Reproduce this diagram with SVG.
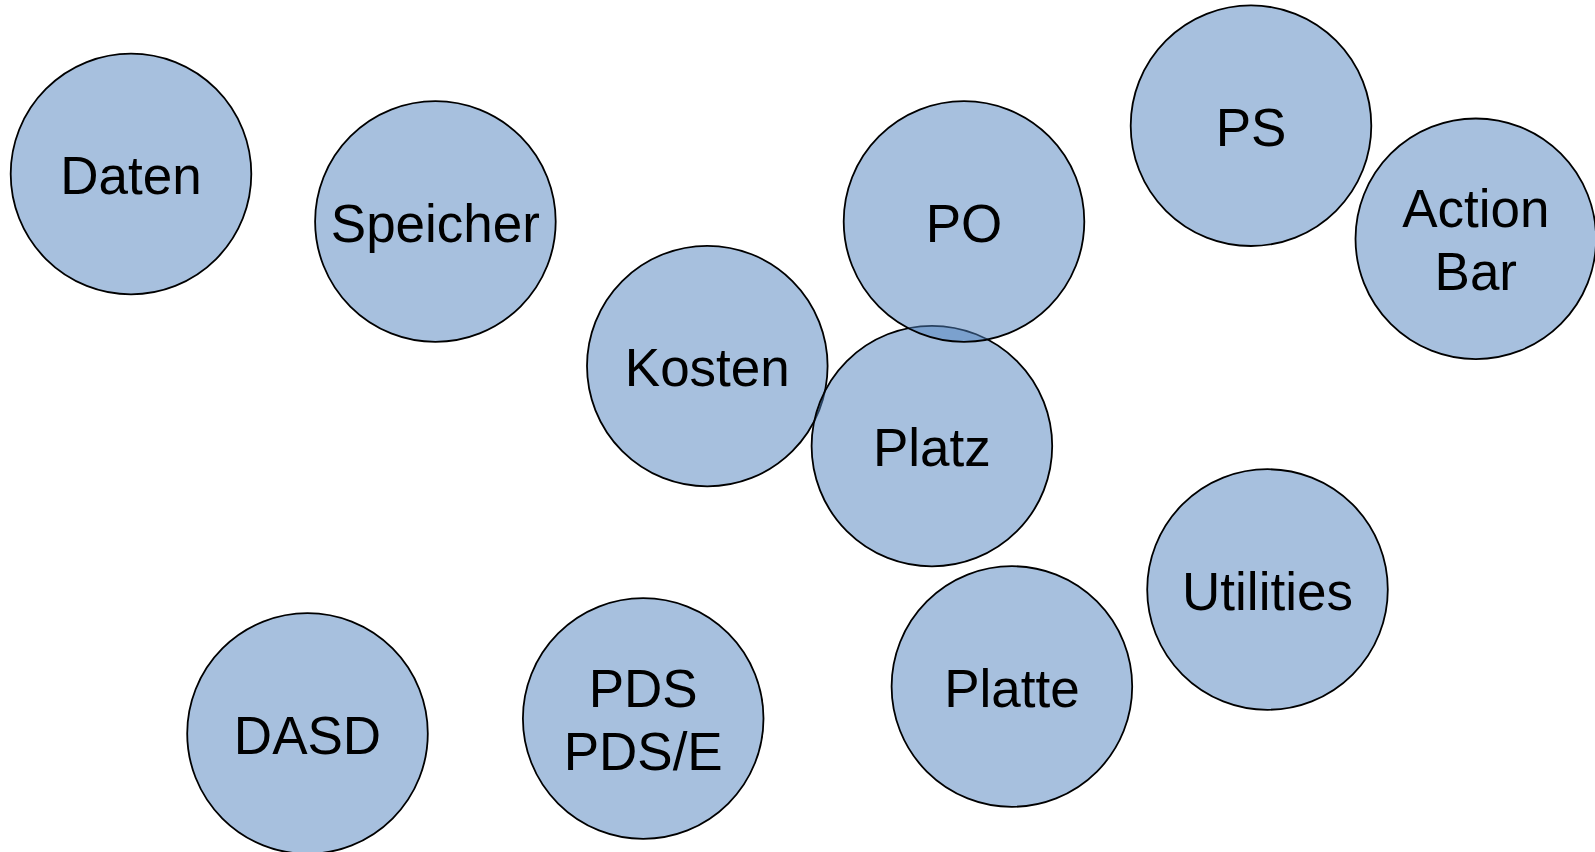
<svg xmlns="http://www.w3.org/2000/svg" width="1595" height="852" viewBox="0 0 1595 852">
<style>
.n circle{fill:#4F81BD;fill-opacity:0.5;stroke:#000;stroke-width:1.8}
.n text{font-family:"Liberation Sans",Arial,sans-serif;font-size:53px;fill:#000;text-anchor:middle}
</style>
<rect width="1595" height="852" fill="#fff"/>
<g id="connectors"></g>
<g id="daten" class="n"><circle cx="131" cy="174" r="120.3"/><text x="131" y="194">Daten</text></g>
<g id="speicher" class="n"><circle cx="435.4" cy="221.5" r="120.3"/><text x="435.4" y="241.5">Speicher</text></g>
<g id="kosten" class="n"><circle cx="707.3" cy="366.1" r="120.3"/><text x="707.3" y="386.1">Kosten</text></g>
<g id="platz" class="n"><circle cx="931.9" cy="446.1" r="120.3"/><text x="931.9" y="466.1">Platz</text></g>
<g id="po" class="n"><circle cx="964" cy="221.5" r="120.3"/><text x="964" y="241.5">PO</text></g>
<g id="ps" class="n"><circle cx="1251" cy="125.7" r="120.3"/><text x="1251" y="145.7">PS</text></g>
<g id="actionbar" class="n"><circle cx="1475.8" cy="238.8" r="120.3"/><text x="1475.8" y="227">Action</text><text x="1475.8" y="290">Bar</text></g>
<g id="utilities" class="n"><circle cx="1267.5" cy="589.5" r="120.3"/><text x="1267.5" y="609.5">Utilities</text></g>
<g id="platte" class="n"><circle cx="1011.9" cy="686.5" r="120.3"/><text x="1011.9" y="706.5">Platte</text></g>
<g id="pds" class="n"><circle cx="643.2" cy="718.5" r="120.3"/><text x="643.2" y="707">PDS</text><text x="643.2" y="770">PDS/E</text></g>
<g id="dasd" class="n"><circle cx="307.5" cy="733.5" r="120.3"/><text x="307.5" y="753.5">DASD</text></g>
</svg>
